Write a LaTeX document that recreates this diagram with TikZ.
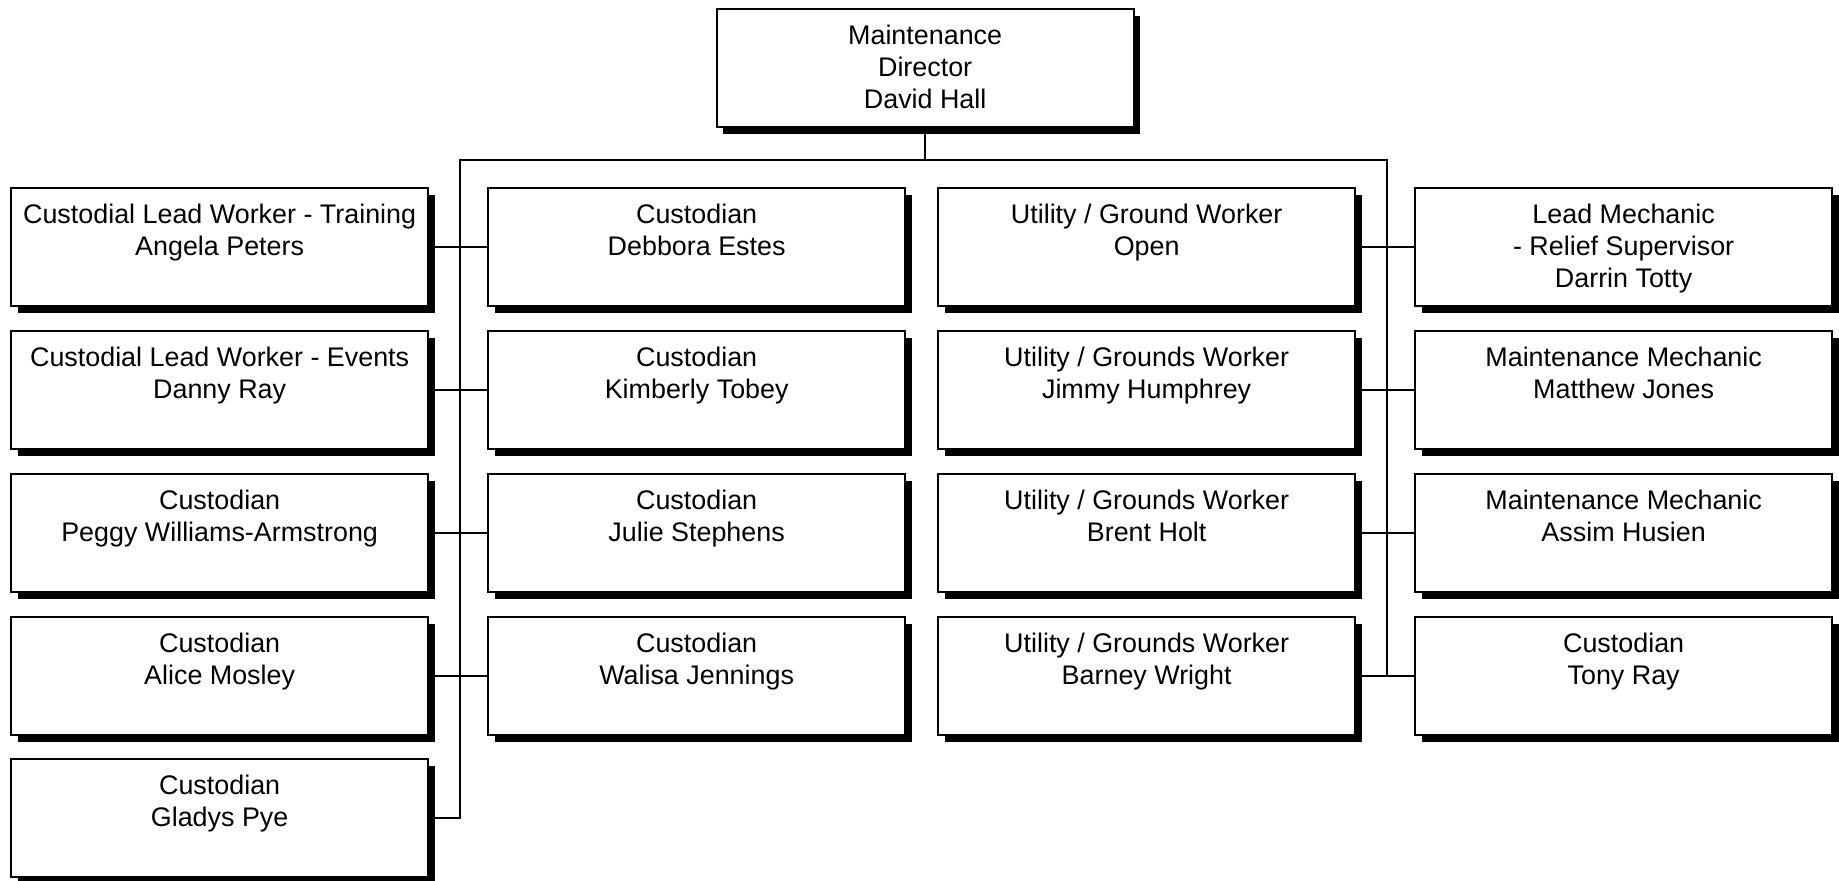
\documentclass[tikz,border=0pt]{standalone}
\usepackage{fontspec}
\setmainfont{Liberation Sans}
\usetikzlibrary{shadows}

\tikzset{
  staff/.style={draw, line width=1.3pt, fill=white, inner sep=0pt, anchor=north west,
    font=\fontsize{15.3}{18.4}\selectfont,
    drop shadow={shadow xshift=0.13cm, shadow yshift=-0.13cm, opacity=1, fill=black}},
  link/.style={line width=1.2pt}
}
\newcommand{\post}[1]{\parbox[c][2.36cm][t]{8.34cm}{\centering\rule{0pt}{0.7cm}#1}}

\begin{document}
\begin{tikzpicture}
\useasboundingbox (0,0) rectangle (36.78,17.6);
% director
\node[staff] (dir) at (14.31,17.44) {\post{Maintenance\\Director\\David Hall}};
% left custodial column
\node[staff] (custL1) at (0.2,13.86) {\post{Custodial Lead Worker - Training\\Angela Peters}};
\node[staff] (custL2) at (0.2,11.0) {\post{Custodial Lead Worker - Events\\Danny Ray}};
\node[staff] (custL3) at (0.2,8.14) {\post{Custodian\\Peggy Williams-Armstrong}};
\node[staff] (custL4) at (0.2,5.28) {\post{Custodian\\Alice Mosley}};
\node[staff] (custL5) at (0.2,2.44) {\post{Custodian\\Gladys Pye}};
% right custodial column
\node[staff] (custR1) at (9.74,13.86) {\post{Custodian\\Debbora Estes}};
\node[staff] (custR2) at (9.74,11.0) {\post{Custodian\\Kimberly Tobey}};
\node[staff] (custR3) at (9.74,8.14) {\post{Custodian\\Julie Stephens}};
\node[staff] (custR4) at (9.74,5.28) {\post{Custodian\\Walisa Jennings}};
% grounds
\node[staff] (grnd1) at (18.74,13.86) {\post{Utility / Ground Worker\\Open}};
\node[staff] (grnd2) at (18.74,11.0) {\post{Utility / Grounds Worker\\Jimmy Humphrey}};
\node[staff] (grnd3) at (18.74,8.14) {\post{Utility / Grounds Worker\\Brent Holt}};
\node[staff] (grnd4) at (18.74,5.28) {\post{Utility / Grounds Worker\\Barney Wright}};
% mechanics
\node[staff] (mech1) at (28.28,13.86) {\post{Lead Mechanic\\- Relief Supervisor\\Darrin Totty}};
\node[staff] (mech2) at (28.28,11.0) {\post{Maintenance Mechanic\\Matthew Jones}};
\node[staff] (mech3) at (28.28,8.14) {\post{Maintenance Mechanic\\Assim Husien}};
\node[staff] (mech4) at (28.28,5.28) {\post{Custodian\\Tony Ray}};
% buses
\coordinate (busL) at (9.2,14.4);
\coordinate (busR) at (27.74,14.4);
\draw[link] (dir.south) -- (dir.south |- busL);
\draw[link] (busR |- mech4.west) -- (busR) -- (busL) -- (busL |- custL5.east) -- (custL5.east);
\draw[link] (custL1.east) -- (custR1.west);
\draw[link] (custL2.east) -- (custR2.west);
\draw[link] (custL3.east) -- (custR3.west);
\draw[link] (custL4.east) -- (custR4.west);
\draw[link] (grnd1.east) -- (mech1.west);
\draw[link] (grnd2.east) -- (mech2.west);
\draw[link] (grnd3.east) -- (mech3.west);
\draw[link] (grnd4.east) -- (mech4.west);
\end{tikzpicture}
\end{document}
